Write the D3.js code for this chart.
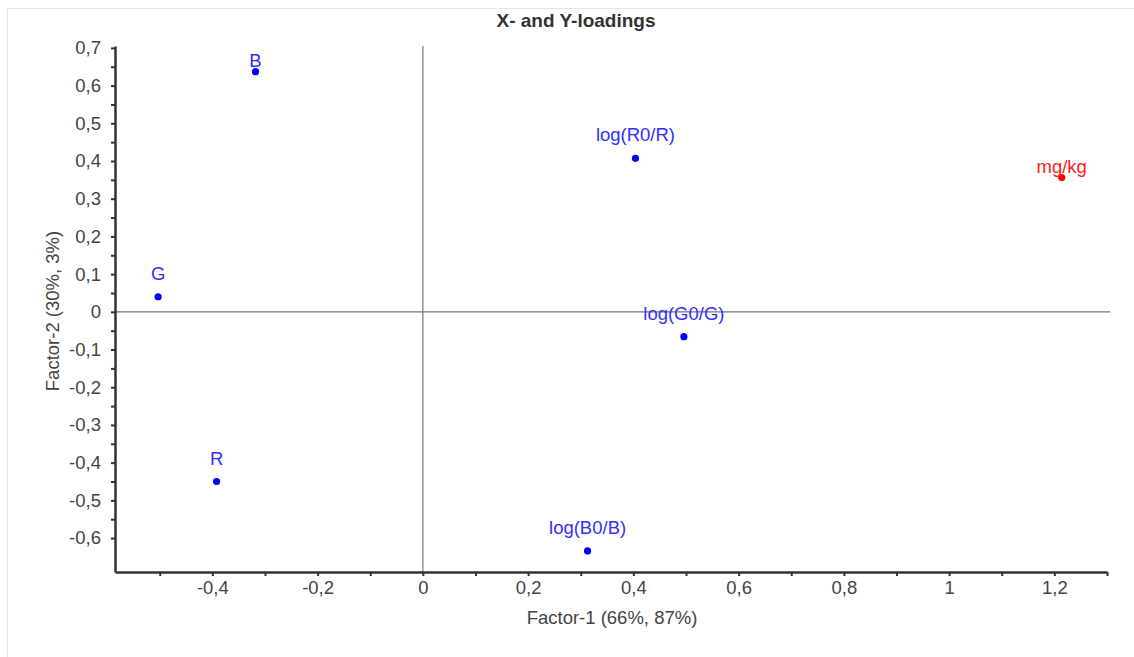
<!DOCTYPE html>
<html>
<head>
<meta charset="utf-8">
<script src="https://cdn.jsdelivr.net/npm/d3@7"></script>
<style>
  body { margin: 0; background: #fff; }
  svg { font-family: "Liberation Sans", Arial, sans-serif; }
  .tick text { fill: #444; font-size: 18.5px; }
  .axis path, .axis line { stroke: #333; }
</style>
</head>
<body>
<svg width="1134" height="657"></svg>
<script>
// loadings
var names = ["B", "log(R0/R)", "mg/kg", "G", "log(G0/G)", "R", "log(B0/B)"];
var factor1 = [-0.318, 0.404, 1.214, -0.503, 0.496, -0.392, 0.313];
var factor2 = [0.637, 0.407, 0.356, 0.040, -0.066, -0.450, -0.634];
var kinds = ["x", "x", "y", "x", "x", "x", "x"];   // X-loadings blue, Y-loading red

var xTicks = [-0.5, -0.4, -0.3, -0.2, -0.1, 0, 0.1, 0.2, 0.3, 0.4, 0.5, 0.6, 0.7, 0.8, 0.9, 1, 1.1, 1.2, 1.3];
var xLabels = [-0.4, -0.2, 0, 0.2, 0.4, 0.6, 0.8, 1, 1.2];
var yTicks = [0.7, 0.6, 0.5, 0.4, 0.3, 0.2, 0.1, 0, -0.1, -0.2, -0.3, -0.4, -0.5, -0.6];

var svg = d3.select("svg");

// light frame round the chart (only top and left show)
svg.append("rect")
  .attr("x", 7.5).attr("y", 8.5)
  .attr("width", 1140).attr("height", 660)
  .attr("fill", "none")
  .attr("stroke", "#e4e4e4");

var x = d3.scaleLinear().domain([-0.585, 1.3]).range([115, 1107]);
var y = d3.scaleLinear().domain([-0.69, 0.705]).range([572, 46]);

var loc = d3.formatLocale({decimal: ",", thousands: ".", grouping: [3], currency: ["", ""], minus: "-"});
var fmt = loc.format("~g");
var isLabel = function(v) {
  return xLabels.some(function(l) { return Math.abs(l - v) < 1e-9; });
};

// zero lines
svg.append("line")
  .attr("x1", x(0)).attr("x2", x(0))
  .attr("y1", 46).attr("y2", y.range()[0])
  .attr("stroke", "#777").attr("stroke-width", 1.2);
svg.append("line")
  .attr("x1", x.range()[0]).attr("x2", 1110)
  .attr("y1", y(0)).attr("y2", y(0))
  .attr("stroke", "#777").attr("stroke-width", 1.2);

// x axis
var gx = svg.append("g").attr("class", "axis")
  .attr("transform", "translate(0," + y.range()[0] + ")")
  .call(d3.axisBottom(x).tickValues(xTicks).tickSize(4).tickSizeOuter(0)
    .tickFormat(function(d) { return isLabel(d) ? fmt(d) : ""; }));
gx.select(".domain").attr("stroke-width", 2.5);
gx.selectAll(".tick line").attr("stroke-width", 2);
gx.selectAll(".tick text").attr("y", 9);

// y axis: labelled ticks every 0.1, minor every 0.05
var yMinor = yTicks.slice(0, -1).map(function(v) { return v - 0.05; });
var gy = svg.append("g").attr("class", "axis")
  .attr("transform", "translate(" + x.range()[0] + ",0)")
  .call(d3.axisLeft(y).tickValues(yTicks.concat(yMinor)).tickSize(4).tickSizeOuter(0)
    .tickFormat(function(d) {
      return yTicks.some(function(t) { return Math.abs(t - d) < 1e-9; }) ? fmt(d) : "";
    }));
gy.select(".domain").attr("stroke-width", 2.5);
gy.selectAll(".tick line").attr("stroke-width", 2);
gy.selectAll(".tick text").attr("x", -14);

// title and axis titles
svg.append("text")
  .attr("x", 576).attr("y", 27)
  .attr("text-anchor", "middle")
  .attr("font-size", 19).attr("font-weight", "bold")
  .attr("fill", "#333")
  .text("X- and Y-loadings");

svg.append("text")
  .attr("x", 612).attr("y", 624)
  .attr("text-anchor", "middle")
  .attr("font-size", 18.5).attr("fill", "#444")
  .text("Factor-1 (66%, 87%)");

svg.append("text")
  .attr("transform", "translate(59,311) rotate(-90)")
  .attr("text-anchor", "middle")
  .attr("font-size", 18.5).attr("fill", "#444")
  .text("Factor-2 (30%, 3%)");

// points and labels
var points = names.map(function(n, i) {
  return {name: n, f1: factor1[i], f2: factor2[i], kind: kinds[i]};
});
var tight = ["B", "mg/kg"];   // labels that sit closer to their point

var pt = svg.append("g").selectAll("g")
  .data(points)
  .enter().append("g");

pt.append("circle")
  .attr("cx", function(d) { return x(d.f1); })
  .attr("cy", function(d) { return y(d.f2); })
  .attr("r", 3.6)
  .attr("fill", function(d) { return d.kind === "y" ? "#ff0000" : "#0000ff"; });

pt.append("text")
  .attr("x", function(d) { return x(d.f1); })
  .attr("y", function(d) { return y(d.f2) - (tight.indexOf(d.name) >= 0 ? 5 : 17); })
  .attr("text-anchor", "middle")
  .attr("font-size", 18.5)
  .attr("fill", function(d) { return d.kind === "y" ? "#ff2020" : "#3030ff"; })
  .text(function(d) { return d.name; });
</script>
</body>
</html>
